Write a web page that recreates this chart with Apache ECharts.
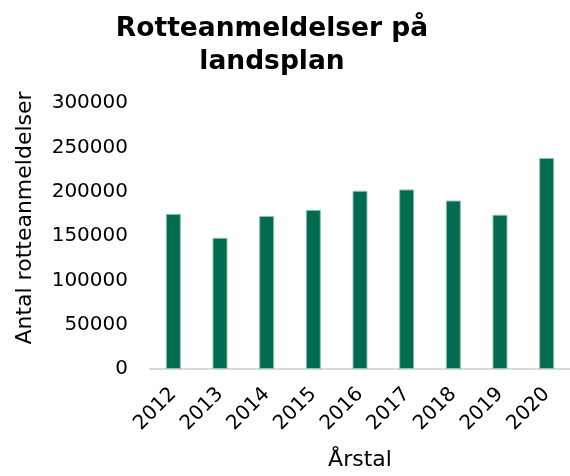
<!DOCTYPE html>
<html>
<head>
<meta charset="utf-8">
<script src="https://cdn.jsdelivr.net/npm/echarts@6/dist/echarts.min.js"></script>
<style>html,body{margin:0;padding:0;background:#fff;}#c{width:570px;height:476px;}</style>
</head>
<body>
<div id="c"></div>
<script>
const years = ['2012','2013','2014','2015','2016','2017','2018','2019','2020'];
const reports = [175000, 148000, 172500, 179500, 201000, 202500, 190000, 174000, 238000];
const yTicks = { min: 0, max: 300000, interval: 50000 };

const chart = echarts.init(document.getElementById('c'), null, { renderer: 'canvas' });
const font = 'DejaVu Sans';
chart.setOption({
  animation: false,
  backgroundColor: '#ffffff',
  title: {
    text: 'Rotteanmeldelser på\nlandsplan',
    left: 267, top: 8, textAlign: 'center',
    textStyle: { fontFamily: font, fontSize: 26.5, fontWeight: 'bold', color: '#000', lineHeight: 33 }
  },
  grid: { left: 150, top: 103, width: 431, bottom: 105 },
  xAxis: {
    type: 'category', data: years,
    name: 'Årstal', nameLocation: 'middle', nameGap: 80,
    nameTextStyle: { fontFamily: font, fontSize: 22, color: '#000' },
    axisLine: { lineStyle: { color: '#d9d9d9', width: 2 } },
    axisTick: { show: false },
    axisLabel: { rotate: 45, margin: 22, fontFamily: font, fontSize: 20, color: '#000' }
  },
  yAxis: {
    type: 'value', min: yTicks.min, max: yTicks.max, interval: yTicks.interval,
    name: 'Antal rotteanmeldelser', nameLocation: 'middle', nameGap: 114,
    nameTextStyle: { fontFamily: font, fontSize: 22, color: '#000', padding: [0, 0, 0, 36] },
    axisLine: { show: false }, axisTick: { show: false },
    splitLine: { show: false },
    axisLabel: { margin: 22, fontFamily: font, fontSize: 20, color: '#000', formatter: v => String(v) }
  },
  series: [{
    type: 'bar', data: reports, barWidth: 15,
    itemStyle: { color: '#006B4F', borderColor: '#8cc2b1', borderWidth: 1 }
  }]
});
</script>
</body>
</html>
